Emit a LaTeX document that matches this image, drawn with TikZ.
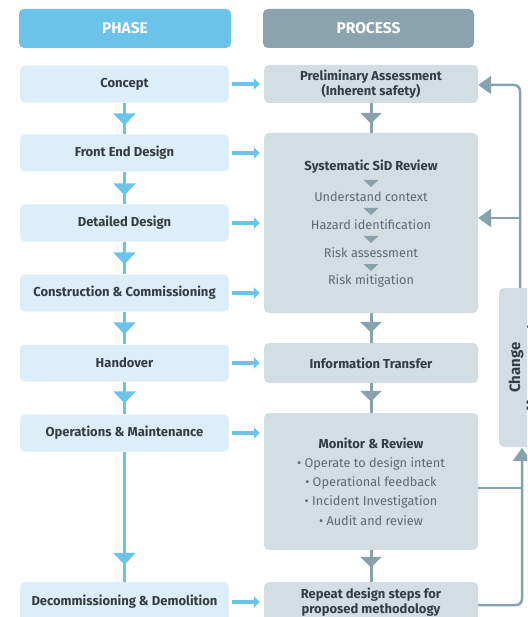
\documentclass[tikz,border=0pt]{standalone}
\usepackage{fontspec}
\setmainfont{Fira Sans}
\usetikzlibrary{arrows.meta,decorations.markings}
\definecolor{phhead}{HTML}{6CC3EA}
\definecolor{prhead}{HTML}{8BA3AF}
\definecolor{phfill}{HTML}{DBEEF9}
\definecolor{prfill}{HTML}{D2DEE4}
\definecolor{blueln}{HTML}{6CC3EA}
\definecolor{grayln}{HTML}{87A1AD}
\definecolor{darktx}{HTML}{363D42}
\definecolor{graytx}{HTML}{5E6A72}
\begin{document}
\begin{tikzpicture}[x=1pt,y=-1pt,
  head/.style={rounded corners=5pt, minimum height=39pt, inner sep=0pt, text=white,
    font=\bfseries\fontsize{15.5}{17}\selectfont},
  phbox/.style={fill=phfill, rounded corners=5pt, minimum width=209pt, minimum height=37pt,
    inner sep=0pt, text=darktx, align=center, font=\bfseries\fontsize{13}{15}\selectfont},
  prbox/.style={fill=prfill, rounded corners=5pt, minimum width=214pt, minimum height=38pt,
    inner sep=0pt, text=darktx, align=center, font=\bfseries\fontsize{13}{14.5}\selectfont},
  boldtx/.style={inner sep=0pt, text=darktx, font=\bfseries\fontsize{13}{15}\selectfont},
  graytext/.style={inner sep=0pt, text=graytx, font=\fontsize{12.7}{15}\selectfont},
  hblue/.style={draw=blueln, line width=4pt, -{Triangle[length=6pt,width=11pt]}},
  vblue/.style={draw=blueln, line width=3.5pt, postaction={decorate},
    decoration={markings, mark=at position #1 with {\arrow[blueln]{Triangle[length=12pt,width=22pt]}}}},
  vgray/.style={draw=grayln, line width=3pt, postaction={decorate},
    decoration={markings, mark=at position #1 with {\arrow[grayln]{Triangle[length=11pt,width=21pt]}}}},
  fbline/.style={draw=grayln, line width=2.5pt, rounded corners=6pt},
  fbtip/.style={-{Triangle[length=13pt,width=18pt]}},
  smalltri/.style={fill=grayln}
]
\useasboundingbox (0,0) rectangle (527,617);
\clip (0,0) rectangle (527,617);

% headers
\node[head, fill=phhead, minimum width=212pt] (hphase) at (125,28.5) {PHASE};
\node[head, fill=prhead, minimum width=211pt] (hproc) at (368.5,28.5) {PROCESS};

% phase boxes
\node[phbox] (concept) at (124.5,84) {Concept};
\node[phbox] (front) at (124.5,153) {Front End Design};
\node[phbox] (detail) at (124.5,223) {Detailed Design};
\node[phbox] (constr) at (124.5,293) {Construction \& Commissioning};
\node[phbox] (handover) at (124.5,363) {Handover};
\node[phbox] (ops) at (124.5,433) {Operations \& Maintenance};
\node[phbox, minimum height=40pt] (decom) at (124.5,602) {Decommissioning \& Demolition};

% process boxes
\node[prbox] (prelim) at (371,84) {Preliminary Assessment\\(Inherent safety)};
\node[prbox, minimum height=180pt] (sid) at (371,223) {};
\node[prbox, minimum height=40pt] (info) at (371,363) {Information Transfer};
\node[prbox, minimum height=137pt] (monitor) at (371,481.5) {};
\node[prbox, minimum height=40pt] (repeat) at (371,602) {Repeat design steps for\\proposed methodology};

% change management box
\node[fill=prfill, rounded corners=5pt, minimum width=60pt, minimum height=159pt, inner sep=0pt] (change) at (529,367.5) {};
\node[rotate=90, inner sep=0pt, text=darktx, align=center,
  font=\bfseries\fontsize{15}{17}\selectfont] (changetx) at (524.5,367.5) {Change\\Management};

% SiD review content
\node[boldtx] (sidt) at (371,167) {Systematic SiD Review};
\node[graytext] (s1) at (371,197) {Understand context};
\node[graytext] (s2) at (371,225) {Hazard identification};
\node[graytext] (s3) at (371,253) {Risk assessment};
\node[graytext] (s4) at (371,281) {Risk mitigation};
\foreach \yy in {183.5,211.5,239.5,267.5}
  \fill[smalltri] (363.5,\yy-3.5) -- (378.5,\yy-3.5) -- (371,\yy+3.5) -- cycle;

% monitor content
\node[boldtx] (mont) at (371,443) {Monitor \& Review};
\node[graytext] (m1) at (371,464) {• Operate to design intent};
\node[graytext] (m2) at (371,483) {• Operational feedback};
\node[graytext] (m3) at (371,502) {• Incident Investigation};
\node[graytext] (m4) at (371,521) {• Audit and review};

% phase to process arrows
\draw[hblue] ([xshift=3pt]concept.east) -- ([xshift=-4pt]prelim.west);
\draw[hblue] ([xshift=3pt]front.east) -- ([xshift=-4pt]front.east -| sid.west);
\draw[hblue] ([xshift=3pt]detail.east) -- ([xshift=-4pt]detail.east -| sid.west);
\draw[hblue] ([xshift=3pt]constr.east) -- ([xshift=-4pt]constr.east -| sid.west);
\draw[hblue] ([xshift=3pt]handover.east) -- ([xshift=-4pt]info.west);
\draw[hblue] ([xshift=3pt]ops.east) -- ([xshift=-4pt]ops.east -| monitor.west);
\draw[hblue] ([xshift=3pt]decom.east) -- ([xshift=-4pt]repeat.west);

% phase flow
\draw[vblue=-9pt] (concept) -- (front);
\draw[vblue=-9pt] (front) -- (detail);
\draw[vblue=-10pt] (detail) -- (constr);
\draw[vblue=-10pt] (constr) -- (handover);
\draw[vblue=-11pt] (handover) -- (ops);
\draw[vblue=-17pt] (ops) -- (decom);

% process flow
\draw[vgray=-9pt] (prelim) -- (sid);
\draw[vgray=-10pt] (sid) -- (info);
\draw[vgray=-11pt] (info) -- (monitor);
\draw[vgray=-14pt] (monitor) -- (repeat);

% feedback loops
\coordinate (cmtop) at (520,288);
\coordinate (cmbot) at (522,448);
\draw[fbline, fbtip] (cmtop) |- ([yshift=-1pt]prelim.east);
\draw[fbline, fbtip] (cmtop |- sid.east) ++(0,-5) -- ([yshift=5pt]sid.east);
\draw[fbline] ([yshift=-6.5pt]monitor.east) -- ([yshift=-6.5pt]monitor.east -| cmbot);
\draw[fbline, fbtip] ([yshift=-3pt]repeat.east) -| (cmbot);
\end{tikzpicture}
\end{document}
